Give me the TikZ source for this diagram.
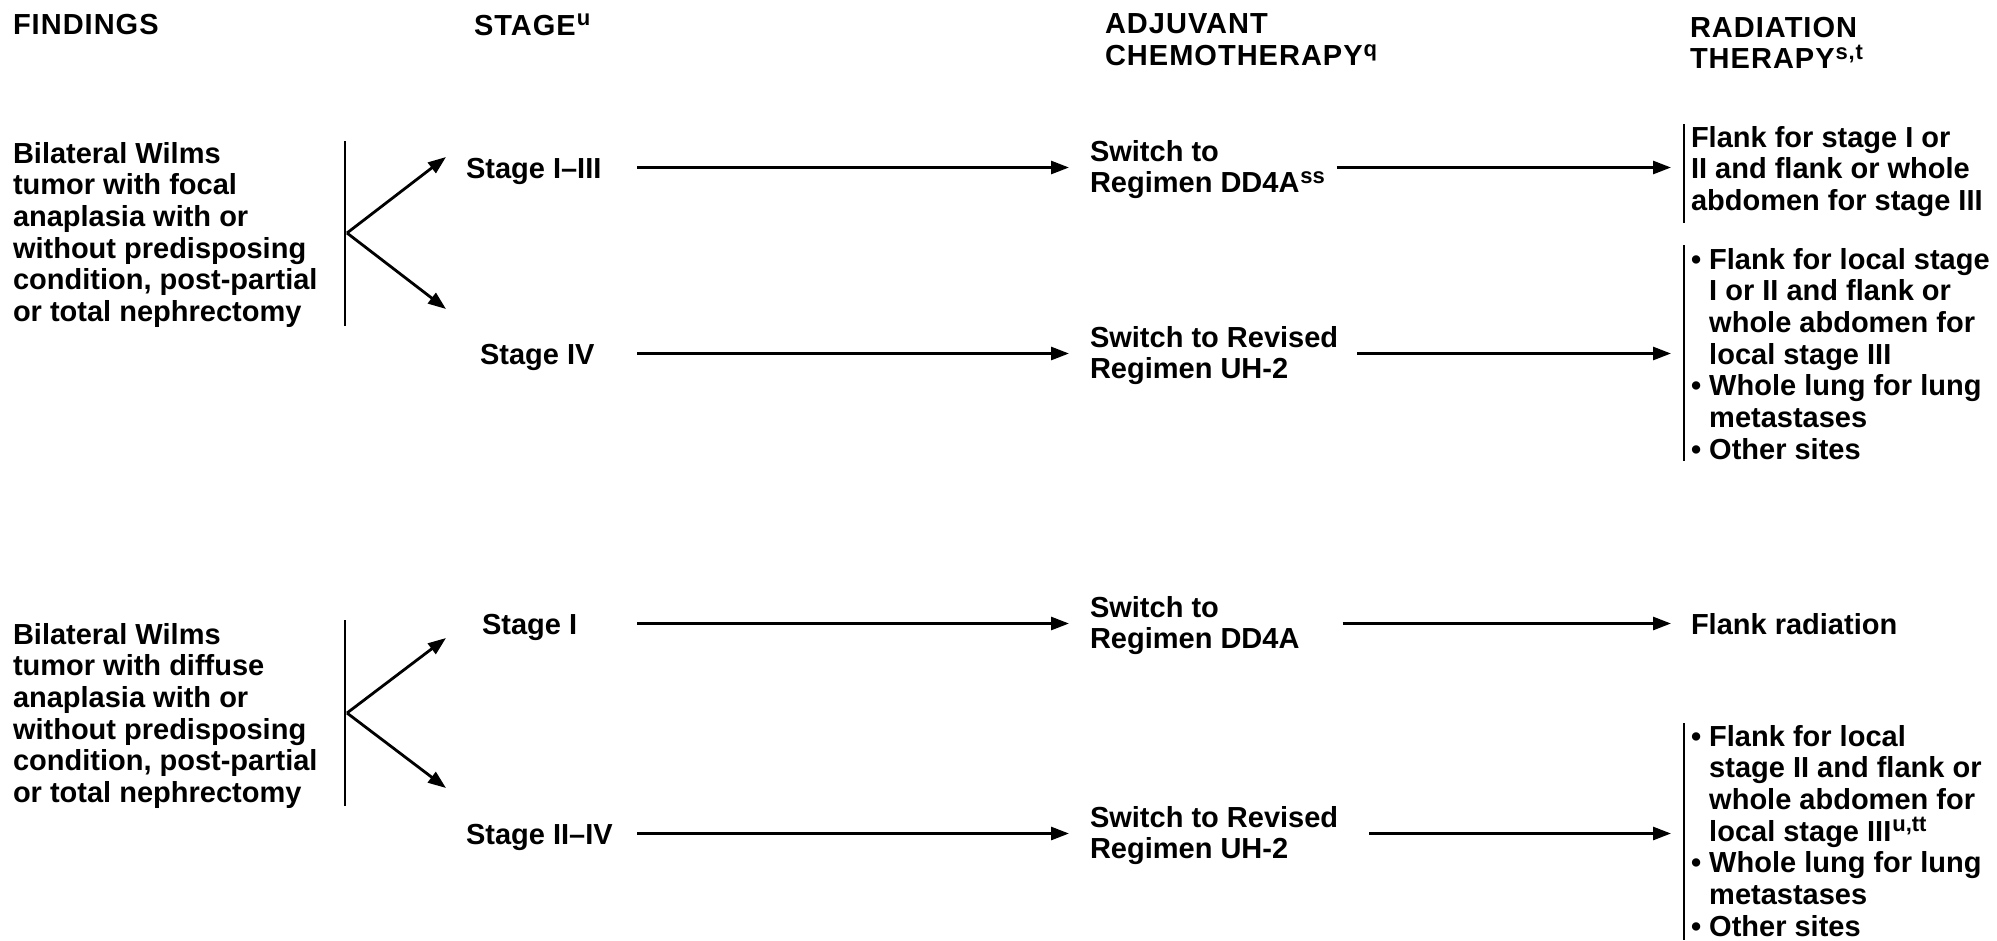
\documentclass[tikz,border=0pt]{standalone}
\usepackage{fontspec}
\setmainfont{Liberation Sans}
\usetikzlibrary{arrows.meta}
% raised footnote letters
\newcommand\sups[1]{\hspace{1pt}\raisebox{9.5pt}{\fontsize{22}{22}\selectfont #1}}

\begin{document}
\begin{tikzpicture}[x=1pt,y=-1pt,
  every node/.style={inner sep=0pt, outer sep=0pt,
    font=\bfseries\fontsize{29}{31.7}\selectfont},
  txt/.style={anchor=north west, align=left},
  one/.style={anchor=base west, text height=21pt, text depth=0pt},
  hdr/.style={anchor=north west, align=left,
    font=\bfseries\fontsize{29}{31.7}\selectfont\addfontfeature{LetterSpace=3.5}},
  arr/.style={line width=2.8pt, -{Triangle[length=18pt,width=13pt]}},
  bar/.style={line width=2.2pt}]

\useasboundingbox (0,0) rectangle (1997,940);

% column headings
\node[hdr] (hF) at (13,14) {FINDINGS};
\node[hdr] (hS) at (474,14) {STAGE\sups{u}};
\node[hdr] (hC) at (1105,14) {ADJUVANT\\CHEMOTHERAPY\sups{q}};
\node[hdr] (hR) at (1690,17) {RADIATION\\THERAPY\sups{s,t}};

% ---------- focal anaplasia ----------
\node[txt] (f1) at (13,142) {Bilateral Wilms\\tumor with focal\\anaplasia with or\\without predisposing\\condition, post-partial\\or total nephrectomy};
\draw[bar] (345,141) -- (345,326);
\coordinate (br1) at (347,233);
\coordinate (t1a) at (446,157);
\coordinate (t1b) at (446,309);
\draw[arr] (br1) -- (t1a);
\draw[arr] (br1) -- (t1b);

\node[one] (s1) at (466,178) {Stage I–III};
\node[one] (s2) at (480,364) {Stage IV};

\node[txt] (c1) at (1090,140) {Switch to\\Regimen DD4A\sups{ss}};
\node[txt] (c2) at (1090,326) {Switch to Revised\\Regimen UH-2};

\node[txt] (r1) at (1691,126) {Flank for stage I or\\II and flank or whole\\abdomen for stage III};
\draw[bar] (1684,124) -- (1684,223);
\node[txt] (r2) at (1691,248) {• Flank for local stage\\\phantom{• }I or II and flank or\\\phantom{• }whole abdomen for\\\phantom{• }local stage III\\• Whole lung for lung\\\phantom{• }metastases\\• Other sites};
\draw[bar] (1684,245) -- (1684,461);

% ---------- diffuse anaplasia ----------
\node[txt] (f2) at (13,623) {Bilateral Wilms\\tumor with diffuse\\anaplasia with or\\without predisposing\\condition, post-partial\\or total nephrectomy};
\draw[bar] (345,620) -- (345,806);
\coordinate (br2) at (347,713);
\coordinate (t2a) at (446,638);
\coordinate (t2b) at (446,788);
\draw[arr] (br2) -- (t2a);
\draw[arr] (br2) -- (t2b);

\node[one] (s3) at (482,634) {Stage I};
\node[one] (s4) at (466,844) {Stage II–IV};

\node[txt] (c3) at (1090,596) {Switch to\\Regimen DD4A};
\node[txt] (c4) at (1090,806) {Switch to Revised\\Regimen UH-2};

\node[one] (r3) at (1691,634) {Flank radiation};
\node[txt] (r4) at (1691,725) {• Flank for local\\\phantom{• }stage II and flank or\\\phantom{• }whole abdomen for\\\phantom{• }local stage III\sups{u,tt}\\• Whole lung for lung\\\phantom{• }metastases\\• Other sites};
\draw[bar] (1684,723) -- (1684,940);

% horizontal flow arrows
\coordinate (xa) at (637,0);
\foreach \s/\c/\r/\g in {s1/c1/r1/12, s2/c2/r2/19, s3/c3/r3/43, s4/c4/r4/31}{
  \draw[arr, shorten >=21pt] (\s.east -| xa) -- (\c.west |- \s.east);
  \draw[arr, shorten >=20pt] ([xshift=\g pt]\c.east |- \s.east) -- (\r.west |- \s.east);
}
\end{tikzpicture}
\end{document}
